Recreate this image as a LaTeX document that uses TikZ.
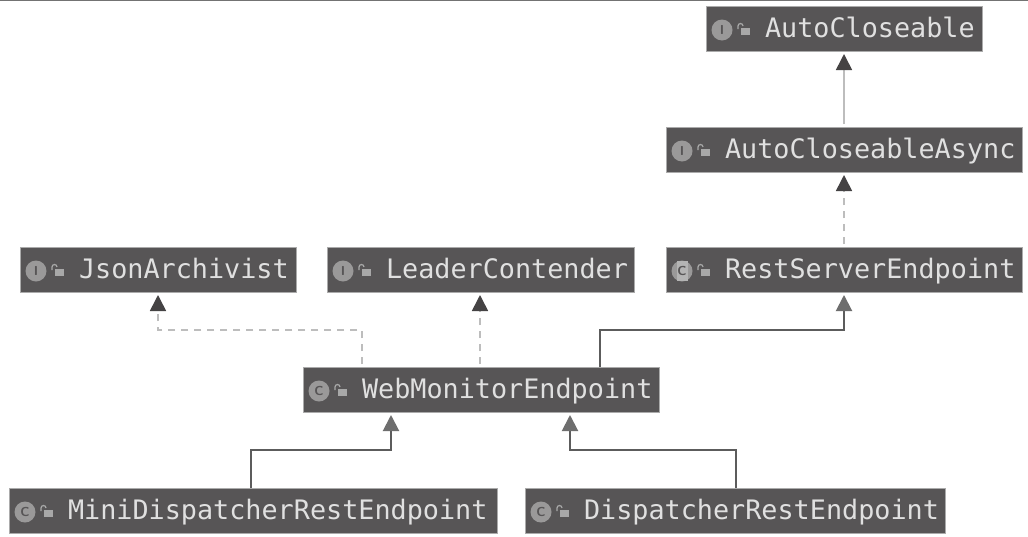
\documentclass[tikz,border=0pt]{standalone}
\usepackage{fontspec}
\setmainfont{DejaVu Sans}
\setmonofont{DejaVu Sans Mono}
\usetikzlibrary{arrows.meta,calc}
\definecolor{boxfill}{HTML}{575556}
\definecolor{boxline}{HTML}{ABABAB}
\definecolor{boxtext}{HTML}{E0E0E0}
\definecolor{iconfill}{HTML}{9A9999}
\definecolor{iconlight}{HTML}{B4B4B4}
\definecolor{lockcol}{HTML}{A8A8A8}
\definecolor{tipdark}{HTML}{454344}
\definecolor{tipgray}{HTML}{6E6E6E}
\definecolor{solidline}{HTML}{5C5C5C}
\definecolor{lightline}{HTML}{BDBDBD}
\tikzset{
  x=1pt,y=-1pt,
  umlbox/.style={anchor=north west,fill=boxfill,draw=boxline,line width=0.8pt,inner sep=0pt,outer sep=0pt,
    text=boxtext,text height=31.6pt,text depth=13.4pt,font=\ttfamily\fontsize{26.8}{30}\selectfont},
  icondisc/.style={circle,fill=iconfill,minimum size=21pt,inner sep=0pt},
  iconletter/.style={inner sep=0pt,text=boxfill,font=\sffamily\bfseries\fontsize{13}{13}\selectfont},
  darktip/.style={-{Triangle[length=16pt,width=16pt,color=tipdark]}},
  graytip/.style={-{Triangle[length=16pt,width=16pt,color=tipgray]}},
  implements/.style={darktip,draw=lightline,line width=1.6pt,dash pattern=on 7pt off 6pt,shorten >=3pt,shorten <=3pt},
  plainline/.style={darktip,draw=lightline,line width=1.6pt,shorten >=3pt,shorten <=3pt},
  extends/.style={graytip,draw=solidline,line width=2pt,shorten >=3pt},
  lockbody/.style={fill=lockcol,draw=none},
  lockarc/.style={draw=lockcol,line width=1.2pt},
}
% name, left, top, width, icon letter, text
\newcommand{\umlclass}[6]{%
  \node[umlbox] (#1) at (#2,#3) {\makebox[#4pt][l]{\hspace{59pt}#6}};
  \node[icondisc] (#1-icon) at ($(#1.north west)+(16,24)$) {};
  \node[iconletter] (#1-letter) at (#1-icon.center) {#5};
  \fill[lockbody] ($(#1.north west)+(35,22)$) rectangle ($(#1.north west)+(44,29)$);
  \draw[lockarc] ($(#1.north west)+(32,23)$) -- ($(#1.north west)+(32,20)$) arc[start angle=180,end angle=0,x radius=2.5,y radius=-2.5];
}
\newcommand{\abstractC}{{\setlength{\fboxsep}{0pt}\colorbox{iconlight}{\makebox[11pt]{\rule[-5.5pt]{0pt}{20pt}C}}}}
\begin{document}
\begin{tikzpicture}
\useasboundingbox (0,0) rectangle (1028,536);
\fill[white] (0,0) rectangle (1028,536);
\fill[black!55] (0,0) rectangle (1028,1);

\umlclass{ac}{706}{6}{276}{I}{AutoCloseable}
\umlclass{aca}{666}{127}{356}{I}{AutoCloseableAsync}
\umlclass{rse}{666}{247}{356}{\abstractC}{RestServerEndpoint}
\umlclass{ja}{20}{247}{276}{I}{JsonArchivist}
\umlclass{lc}{327}{247}{307}{I}{LeaderContender}
\umlclass{web}{303}{367}{356}{C}{WebMonitorEndpoint}
\umlclass{mini}{9}{488}{488}{C}{MiniDispatcherRestEndpoint}
\umlclass{disp}{525}{488}{420}{C}{DispatcherRestEndpoint}

% attachment points on the nodes
\coordinate (acB)  at ($(ac.south west)+(138,0)$);
\coordinate (acaT) at ($(aca.north west)+(178,0)$);
\coordinate (acaB) at ($(aca.south west)+(178,0)$);
\coordinate (rseT) at ($(rse.north west)+(178,0)$);
\coordinate (rseB) at ($(rse.south west)+(178,0)$);
\coordinate (jaB)  at ($(ja.south west)+(138,0)$);
\coordinate (lcB)  at ($(lc.south west)+(153,0)$);
\coordinate (webJ) at ($(web.north west)+(59,0)$);
\coordinate (webL) at ($(web.north west)+(177,0)$);
\coordinate (webR) at ($(web.north west)+(297,0)$);
\coordinate (webM) at ($(web.south west)+(88,0)$);
\coordinate (webD) at ($(web.south west)+(267,0)$);
\coordinate (miniT) at ($(mini.north west)+(242,0)$);
\coordinate (dispT) at ($(disp.north west)+(211,0)$);

\draw[plainline] (acaT) -- (acB);
\draw[implements] (rseT) -- (acaB);
\draw[implements] (webL) -- (lcB);
\draw[implements] (webJ) -- ++(0,-37) -| (jaB);
\draw[extends] (webR) -- ++(0,-37) -| (rseB);
\draw[extends] (miniT) -- ++(0,-38) -| (webM);
\draw[extends] (dispT) -- ++(0,-38) -| (webD);
\end{tikzpicture}
\end{document}
